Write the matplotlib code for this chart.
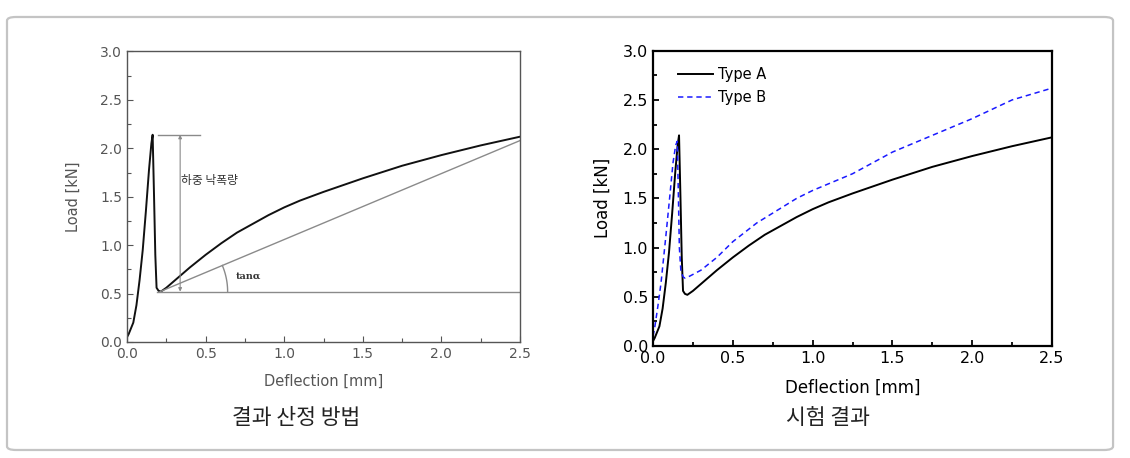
import matplotlib
matplotlib.use('Agg')
import matplotlib.pyplot as plt
from matplotlib.patches import FancyBboxPatch
from matplotlib.ticker import MultipleLocator
import numpy as np

plt.rcParams['font.family'] = ['DejaVu Sans', 'Noto Sans CJK KR']

# Type A load-deflection curve
defl_a = [0, 0.01, 0.02, 0.04, 0.06, 0.08, 0.10, 0.12, 0.14, 0.155, 0.163,
          0.172, 0.18, 0.188, 0.2, 0.215, 0.25, 0.3, 0.4, 0.5, 0.6, 0.7,
          0.8, 0.9, 1.0, 1.1, 1.25, 1.5, 1.75, 2.0, 2.25, 2.5]
load_a = [0.05, 0.08, 0.12, 0.2, 0.38, 0.64, 0.95, 1.35, 1.78, 2.05, 2.14,
          1.5, 0.9, 0.56, 0.53, 0.52, 0.56, 0.63, 0.77, 0.9, 1.02, 1.13,
          1.22, 1.31, 1.39, 1.46, 1.55, 1.69, 1.82, 1.93, 2.03, 2.12]

# Type B load-deflection curve
defl_b = [0, 0.01, 0.03, 0.05, 0.08, 0.105, 0.125, 0.142, 0.152, 0.158,
          0.165, 0.175, 0.19, 0.2, 0.23, 0.3, 0.4, 0.5, 0.65, 0.75, 0.9,
          1.0, 1.25, 1.5, 1.75, 2.0, 2.25, 2.5]
load_b = [0.1, 0.18, 0.4, 0.64, 1.11, 1.52, 1.86, 2.04, 2.08, 1.6,
          1.0, 0.75, 0.70, 0.69, 0.71, 0.77, 0.9, 1.06, 1.25, 1.35, 1.5,
          1.58, 1.75, 1.97, 2.14, 2.31, 2.50, 2.62]

# method annotation values
peak_load = 2.14
min_load = 0.52
min_defl = 0.21
end_secant = 2.08

captions = ['결과 산정 방법', '시험 결과']

fig = plt.figure(figsize=(11.3, 4.58), dpi=100)

# rounded frame around everything
frame = FancyBboxPatch((0.0062, 0.0175), 0.9788, 0.9454,
                       boxstyle='round,pad=0,rounding_size=0.008',
                       transform=fig.transFigure, fc='none', ec='#c4c4c4',
                       lw=1.6, zorder=-1)
fig.patches.append(frame)

ax1 = fig.add_axes([0.1124, 0.2533, 0.3478, 0.6343])
ax2 = fig.add_axes([0.5779, 0.2445, 0.3531, 0.6448])


def style_axes(ax, col, lw, fs, lab_fs, ypad):
    ax.set_xlim(0, 2.5)
    ax.set_ylim(0, 3.0)
    ax.xaxis.set_major_locator(MultipleLocator(0.5))
    ax.yaxis.set_major_locator(MultipleLocator(0.5))
    ax.xaxis.set_minor_locator(MultipleLocator(0.25))
    ax.yaxis.set_minor_locator(MultipleLocator(0.25))
    ax.tick_params(which='both', direction='in', color=col, labelcolor=col,
                   labelsize=fs, width=lw * 0.8)
    ax.tick_params(which='major', length=4)
    ax.tick_params(which='minor', length=3)
    ax.xaxis.set_major_formatter(plt.FormatStrFormatter('%.1f'))
    ax.yaxis.set_major_formatter(plt.FormatStrFormatter('%.1f'))
    for s in ax.spines.values():
        s.set_color(col)
        s.set_linewidth(lw)
    ax.set_xlabel('Deflection [mm]', fontsize=lab_fs, color=col, labelpad=9)
    ax.set_ylabel('Load [kN]', fontsize=lab_fs, color=col, labelpad=ypad)


# left panel: method
style_axes(ax1, '#555555', 1.0, 10, 10.5, 14)
ax1.plot(defl_a, load_a, color='#111111', lw=1.4)
g = '#8a8a8a'
ax1.plot([min_defl - 0.02, 2.5], [min_load, min_load], color=g, lw=1)
ax1.plot([min_defl, 2.5], [min_load, end_secant], color=g, lw=1)
ax1.plot([0.2, 0.465], [peak_load, peak_load], color=g, lw=1)
ax1.annotate('', xy=(0.338, min_load), xytext=(0.338, peak_load),
             arrowprops=dict(arrowstyle='<|-|>', color=g, lw=0.8,
                             mutation_scale=5, shrinkA=0, shrinkB=0))
ax1.text(0.345, 1.67, '하중 낙폭량', fontsize=8.5, color='#333333',
         family=['Noto Sans CJK KR', 'DejaVu Sans'], va='center')
# angle arc
ang = np.arctan((end_secant - min_load) / (2.5 - min_defl) * 97 / 157)
t = np.linspace(0, ang, 30)
rx = 0.43
ry = rx * 157 / 97
ax1.plot(min_defl + rx * np.cos(t), min_load + ry * np.sin(t), color=g, lw=1)
ax1.text(0.69, 0.68, 'tanα', fontsize=7, fontweight='bold',
         family='DejaVu Serif', color='#333333', va='center')

# right panel: results
style_axes(ax2, 'black', 1.6, 11.5, 12, 8)
ax2.plot(defl_a, load_a, color='black', lw=1.4, label='Type A')
ax2.plot(defl_b, load_b, color='#1a1aff', lw=1.1, ls=(0, (3.5, 2.5)),
         label='Type B')
ax2.legend(loc='upper left', bbox_to_anchor=(0.025, 0.995), frameon=False,
           fontsize=10.5, handlelength=2.4, handletextpad=0.4,
           borderaxespad=0.6, labelspacing=0.55)

fig.text(0.262, 0.088, captions[0], ha='center', va='center', fontsize=15.5,
         family=['Noto Sans CJK KR', 'DejaVu Sans'], color='#222222')
fig.text(0.733, 0.088, captions[1], ha='center', va='center', fontsize=15.5,
         family=['Noto Sans CJK KR', 'DejaVu Sans'], color='#222222')

fig.savefig('out.png', dpi=100)
